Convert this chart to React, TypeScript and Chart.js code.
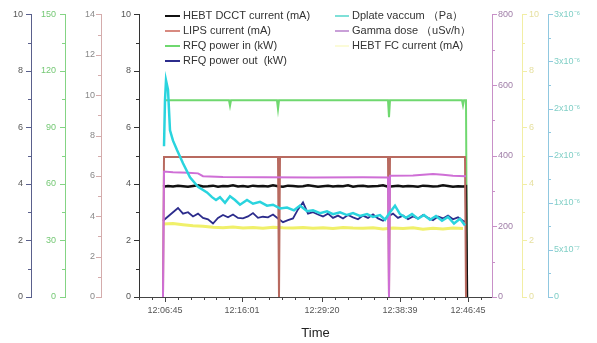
import React, { useEffect, useRef } from "react";
import { Chart, registerables } from "chart.js";

Chart.register(...registerables);

// ---------- data ----------
const timeLabels = ["12:06:45", "12:16:01", "12:29:20", "12:38:39", "12:46:45"];
const timeTickIdx = [2, 79, 159, 237, 305];

// HEBT DCCT current (mA), every 5 samples from 0 to 300
const dcctValues = [
  3.90, 3.93, 3.91, 3.94, 3.92, 3.90, 3.93, 3.95, 3.91, 3.92,
  3.94, 3.90, 3.93, 3.92, 3.95, 3.91, 3.93, 3.90, 3.94, 3.92,
  3.93, 3.91, 3.95, 3.92, 3.90, 3.94, 3.93, 3.91, 3.92, 3.95,
  3.93, 3.90, 3.92, 3.94, 3.91, 3.93, 3.92, 3.95, 3.90, 3.93,
  3.94, 3.91, 3.92, 3.93, 3.95, 3.90, 3.92, 3.94, 3.91, 3.93,
  3.92, 3.90, 3.94, 3.93, 3.91, 3.92, 3.95, 3.93, 3.90, 3.92,
  3.91,
];
const dcctEndIdx = [303, 304];
const dcctEndVal = [3.92, 0];

// RFQ power out (kW), every 5 samples from 0 to 300
const rfqOutValues = [
  2.70, 2.85, 3.00, 3.15, 2.95, 3.00, 2.85, 2.95, 2.80, 2.75,
  2.60, 2.80, 2.90, 2.82, 2.92, 2.80, 2.78, 2.85, 2.97, 2.80,
  2.84, 2.82, 2.92, 2.78, 2.65, 2.72, 2.78, 3.10, 3.35, 2.95,
  3.00, 2.92, 2.85, 2.95, 2.80, 2.88, 2.78, 2.90, 2.82, 2.75,
  2.88, 2.80, 2.92, 2.78, 2.70, 2.85, 2.95, 2.80, 2.88, 2.75,
  2.85, 2.78, 2.90, 2.80, 2.72, 2.85, 2.78, 2.88, 2.75, 2.82,
  2.70,
];
const rfqOutEndIdx = [303, 304];
const rfqOutEndVal = [2.65, 0];

// HEBT FC current (mA), every 10 samples from 0 to 300
const fcValues = [
  2.58, 2.60, 2.56, 2.52, 2.50, 2.47, 2.45, 2.48, 2.44, 2.46,
  2.43, 2.47, 2.45, 2.44, 2.46, 2.43, 2.45, 2.42, 2.46, 2.44,
  2.43, 2.45, 2.41, 2.44, 2.42, 2.45, 2.40, 2.43, 2.41, 2.44,
  2.42,
];

// LIPS current (mA)
const lipsIdx = [0, 1, 115, 116, 117, 225, 226, 227, 302, 303];
const lipsVal = [0, 6.93, 6.93, 0, 6.93, 6.93, 0, 6.93, 6.93, 0];

// RFQ power in (kW)
const rfqInIdx = [1, 66, 67, 68, 114, 115, 116, 225, 226, 227, 299, 300, 301, 303, 304];
const rfqInVal = [104.4, 104.4, 101.5, 104.4, 104.4, 99.8, 104.4, 104.4, 95.4, 104.4, 104.4, 101.7, 104.4, 104.4, 0];

// Dplate vacuum (x1e-6 Pa)
const vacIdx = [1, 2, 3, 5, 7, 10, 14, 20, 27, 35, 44, 49, 53, 57, 62, 67, 72, 77, 84, 90, 97, 104, 110, 117, 124, 131, 137, 144, 150, 157, 164, 170, 177, 184, 190, 197, 204, 210, 217, 222, 227, 232, 237, 243, 249, 255, 261, 267, 273, 279, 285, 291, 297, 302];
const vacVal = [1.60, 2.09, 2.30, 2.20, 1.77, 1.66, 1.56, 1.42, 1.27, 1.17, 1.11, 1.06, 1.03, 1.06, 1.00, 1.07, 1.03, 0.98, 1.03, 0.99, 1.01, 0.97, 0.98, 0.94, 0.95, 0.92, 0.97, 0.91, 0.92, 0.89, 0.91, 0.88, 0.90, 0.87, 0.89, 0.86, 0.88, 0.85, 0.87, 0.82, 0.90, 0.97, 0.88, 0.84, 0.88, 0.83, 0.87, 0.82, 0.86, 0.81, 0.85, 0.78, 0.83, 0.76];

// Gamma dose (uSv/h)
const gammaIdx = [0, 1, 10, 25, 35, 40, 60, 100, 150, 200, 225, 226, 227, 250, 270, 280, 290, 303];
const gammaVal = [0, 355, 353, 352, 350, 342, 340, 339, 338, 339, 338, 0, 343, 344, 348, 346, 343, 342];

const cyanTickLabels = ["0", "5x10⁻⁷", "1x10⁻⁶", "2x10⁻⁶", "2x10⁻⁶", "3x10⁻⁶", "3x10⁻⁶"];

// ---------- styling ----------
const FONT = "'Liberation Sans', Arial, sans-serif";
const C = {
  dcct: "#111111",
  lips: "#b86a60",
  rfqIn: "#6fd86f",
  rfqOut: "#2c2c8c",
  vac: "#2ad4de",
  gamma: "#cf6fd6",
  fc: "#f0f06a",
};

const legendLeft = [
  { label: "HEBT DCCT current (mA)", color: C.dcct },
  { label: "LIPS current (mA)", color: "#d88a80" },
  { label: "RFQ power in (kW)", color: C.rfqIn },
  { label: "RFQ power out  (kW)", color: C.rfqOut },
];
const legendRight = [
  { label: "Dplate vaccum （Pa）", color: "#7fe0d8" },
  { label: "Gamma dose （uSv/h）", color: "#c9a0d8" },
  { label: "HEBT FC current (mA)", color: "#fbfbd8" },
];

const minorSteps: Record<string, number> = {
  yBlue: 1, yGreen: 15, yBrown: 1, yBlack: 1, yPurple: 100, yYellow: 1, yCyan: 0.25,
};
const axisWidths: Record<string, number> = {
  yBlue: 31, yGreen: 34, yBrown: 36, yBlack: 38, yPurple: 30, yYellow: 26, yCyan: 49,
};

const pairs = (xs: number[], ys: number[]) => xs.map((x, i) => ({ x, y: ys[i] }));
const stepped = (vals: number[], step: number) => vals.map((v, i) => ({ x: i * step, y: v }));

const tickPlugin = {
  id: "originTicks",
  afterDraw(chart: any) {
    const ctx = chart.ctx;
    ctx.save();
    for (const id of Object.keys(chart.scales)) {
      const s = chart.scales[id];
      const color = s.options.border.color;
      ctx.strokeStyle = color;
      ctx.lineWidth = 1;
      if (id === "x") {
        const majors = timeTickIdx;
        const minors: number[] = [];
        for (let k = 0; k < majors.length - 1; k++) {
          const a = majors[k], b = majors[k + 1];
          for (let j = 1; j < 6; j++) minors.push(a + ((b - a) * j) / 6);
        }
        const st = (majors[1] - majors[0]) / 6;
        for (let v = majors[0] - st; v > s.min; v -= st) minors.push(v);
        for (let v = majors[majors.length - 1] + st; v < s.max; v += st) minors.push(v);
        const y0 = s.top;
        const draw = (v: number, len: number) => {
          const px = Math.round(s.getPixelForValue(v)) + 0.5;
          ctx.beginPath();
          ctx.moveTo(px, y0);
          ctx.lineTo(px, y0 + len);
          ctx.stroke();
        };
        majors.forEach((v) => draw(v, 5));
        minors.forEach((v) => draw(v, 3));
      } else {
        const left = s.position === "left";
        const x0 = left ? s.right : s.left;
        const dir = left ? -1 : 1;
        const ms = minorSteps[id];
        const draw = (v: number, len: number) => {
          const py = Math.round(s.getPixelForValue(v)) + 0.5;
          ctx.beginPath();
          ctx.moveTo(x0, py);
          ctx.lineTo(x0 + dir * len, py);
          ctx.stroke();
        };
        s.ticks.forEach((t: any) => draw(t.value, 5));
        for (let v = s.min; v <= s.max + 1e-9; v += ms) draw(v, 3);
      }
    }
    ctx.restore();
  },
};

const legendPlugin = {
  id: "originLegend",
  afterDatasetsDraw(chart: any) {
    const ctx = chart.ctx;
    ctx.save();
    ctx.font = `11px ${FONT}`;
    ctx.textBaseline = "middle";
    ctx.textAlign = "left";
    const rowH = 15;
    const draw = (items: { label: string; color: string }[], lx: number, tx: number, lw: number) => {
      items.forEach((it, i) => {
        const y = 16 + i * rowH;
        ctx.strokeStyle = it.color;
        ctx.lineWidth = 2;
        ctx.beginPath();
        ctx.moveTo(lx, y);
        ctx.lineTo(lx + lw, y);
        ctx.stroke();
        ctx.fillStyle = "#333333";
        ctx.fillText(it.label, tx, y);
      });
    };
    draw(legendLeft, 165, 183, 15);
    draw(legendRight, 335, 352, 14);
    ctx.restore();
  },
};

function yAxis(id: string, position: "left" | "right", weight: number, max: number, step: number,
  lineColor: string, labelColor: string, padding: number) {
  return {
    type: "linear",
    position,
    weight,
    min: 0,
    max,
    grid: { display: false, drawTicks: false },
    border: { display: true, color: lineColor, width: 1 },
    ticks: {
      stepSize: step,
      color: labelColor,
      padding,
      font: { size: 9, family: FONT },
      callback: (v: number) => String(v),
    },
    afterFit: (s: any) => { s.width = axisWidths[id]; },
  } as any;
}

export default function App() {
  const ref = useRef<HTMLCanvasElement | null>(null);
  useEffect(() => {
    if (!ref.current) return;
    const line = (data: any[], color: string, yAxisID: string, width: number, order: number) => ({
      data, borderColor: color, backgroundColor: color, yAxisID, borderWidth: width,
      pointRadius: 0, tension: 0, fill: false, order,
    });
    const cyan = yAxis("yCyan", "right", 3, 3, 0.5, "#90c8e0", "#80cfc6", 6);
    cyan.afterBuildTicks = (s: any) => {
      s.ticks = [0, 0.5, 1, 1.5, 2, 2.5, 3].map((v) => ({ value: v }));
    };
    cyan.ticks.callback = (_v: number, i: number) => cyanTickLabels[i];

    const chart = new Chart(ref.current, {
      type: "line",
      data: {
        datasets: [
          line(stepped(dcctValues, 5).concat(pairs(dcctEndIdx, dcctEndVal)), C.dcct, "yBlack", 2.5, 3),
          line(pairs(lipsIdx, lipsVal), C.lips, "yBrown", 2, 2),
          line(pairs(rfqInIdx, rfqInVal), C.rfqIn, "yGreen", 2, 5),
          line(stepped(rfqOutValues, 5).concat(pairs(rfqOutEndIdx, rfqOutEndVal)), C.rfqOut, "yBlue", 1.8, 4),
          line(pairs(vacIdx, vacVal), C.vac, "yCyan", 2.5, 0),
          line(pairs(gammaIdx, gammaVal), C.gamma, "yPurple", 2, 1),
          line(stepped(fcValues, 10), C.fc, "yYellow", 3, 6),
        ],
      },
      options: {
        responsive: false,
        animation: false,
        events: [],
        layout: { padding: { top: 14, left: 0, right: 0, bottom: 0 } },
        plugins: { legend: { display: false }, tooltip: { enabled: false } },
        scales: {
          x: {
            type: "linear",
            position: "bottom",
            min: -24,
            max: 329,
            grid: { display: false, drawTicks: false },
            border: { display: true, color: "#444444", width: 1 },
            afterBuildTicks: (s: any) => {
              s.ticks = timeTickIdx.map((v) => ({ value: v }));
            },
            ticks: {
              autoSkip: false,
              maxRotation: 0,
              padding: 8,
              color: "#555555",
              font: { size: 9, family: FONT },
              callback: (_v: number, i: number) => timeLabels[i],
            },
            title: {
              display: true,
              text: "Time",
              color: "#222222",
              font: { size: 13, family: FONT },
              padding: { top: 0, bottom: 2 },
            },
            afterFit: (s: any) => { s.height = 46; },
          } as any,
          yBlue: yAxis("yBlue", "left", 4, 10, 2, "#5a608c", "#555555", 8),
          yGreen: yAxis("yGreen", "left", 3, 150, 30, "#84d484", "#74c874", 9),
          yBrown: yAxis("yBrown", "left", 2, 14, 2, "#d4acac", "#888888", 6),
          yBlack: yAxis("yBlack", "left", 1, 10, 2, "#333333", "#555555", 8),
          yPurple: yAxis("yPurple", "right", 1, 800, 200, "#c890c8", "#a07ea8", 6),
          yYellow: yAxis("yYellow", "right", 2, 10, 2, "#f2eea4", "#e6e0a0", 7),
          yCyan: cyan,
        },
      } as any,
      plugins: [tickPlugin, legendPlugin],
    });
    return () => chart.destroy();
  }, []);
  return (
    <div style={{ position: "fixed", left: 0, top: 0, width: 597, height: 343, background: "#ffffff" }}>
      <canvas ref={ref} width={597} height={343} style={{ display: "block" }} />
    </div>
  );
}
